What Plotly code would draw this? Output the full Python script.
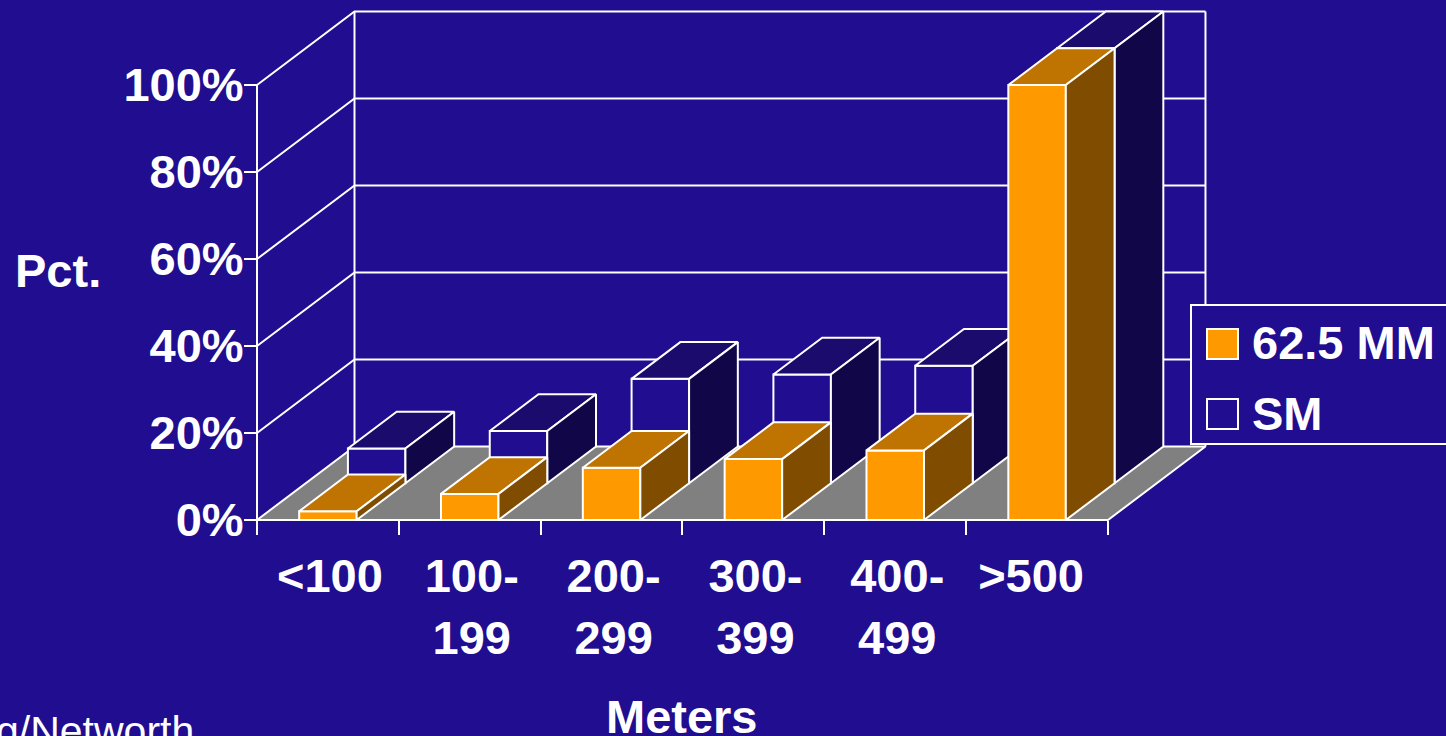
import plotly.graph_objects as go

# ---- data ----
categories = ["<100", "100-<br>199", "200-<br>299", "300-<br>399", "400-<br>499", ">500"]
mm_values = [2, 6, 12, 14, 16, 100]
sm_values = [8, 12, 24, 25, 27, 100]
y_ticks = [0, 20, 40, 60, 80, 100]
y_labels = ["0%", "20%", "40%", "60%", "80%", "100%"]

# ---- style / geometry ----
W, H = 1446, 736
BG = "#210D8F"
WHITE = "#FFFFFF"
FLOOR = "#808080"
MM_COL = ("#FF9900", "#BF7300", "#804D00")
SM_COL = (BG, "#1A0B6C", "#110748")
PX_X, PX_Y = 141.83, 4.35
X0_PX, Y0_PX = 257, 520
DX, DY = 97.5 / PX_X, 73.5 / PX_Y    # whole depth of the floor
BAR_W = 57.5 / PX_X
FS = 47
FONT = "Liberation Sans"
LW = 2
label_shift_px = [2, 2, 2, 2, 2, -6]

fig = go.Figure()


def poly(xs, ys, fill=None, width=LW):
    kw = dict(fill="toself", fillcolor=fill) if fill else {}
    fig.add_trace(go.Scatter(x=xs, y=ys, mode="lines", line=dict(color=WHITE, width=width),
                             hoverinfo="skip", showlegend=False, **kw))


def proj(x, d, v):
    return x + d * DX, v + d * DY


def box(cx, d0, d1, v, colors):
    x0, x1 = cx - BAR_W / 2, cx + BAR_W / 2
    a = [proj(x0, d0, 0), proj(x1, d0, 0), proj(x1, d0, v), proj(x0, d0, v)]
    t = [proj(x0, d0, v), proj(x1, d0, v), proj(x1, d1, v), proj(x0, d1, v)]
    s = [proj(x1, d0, 0), proj(x1, d1, 0), proj(x1, d1, v), proj(x1, d0, v)]
    for pts, c in zip((a, t, s), colors):
        pts = pts + pts[:1]
        poly([p[0] for p in pts], [p[1] for p in pts], c)


n = len(categories)
top = y_ticks[-1]
# front axis lines
poly([0, 0], [0, top])
# walls
for v in y_ticks[1:]:
    p = [proj(0, 0, v), proj(0, 1, v), proj(n, 1, v)]
    poly([q[0] for q in p], [q[1] for q in p])
p = [proj(0, 1, 0), proj(0, 1, top)]
poly([q[0] for q in p], [q[1] for q in p])
p = [proj(n, 1, 0), proj(n, 1, top)]
poly([q[0] for q in p], [q[1] for q in p])
# floor
pts = [proj(0, 0, 0), proj(0, 1, 0), proj(n, 1, 0), proj(n, 0, 0)]
pts = pts + pts[:1]
poly([q[0] for q in pts], [q[1] for q in pts], FLOOR)

# bars: rear series first, then front series
for i, v in enumerate(sm_values):
    box(i + 0.5, 0.5, 1.0, v, SM_COL)
for i, v in enumerate(mm_values):
    box(i + 0.5, 0.0, 0.5, v, MM_COL)

# carrier trace for the label axis
fig.add_trace(go.Scatter(x=[0.5], y=[0], xaxis="x2", mode="markers", marker=dict(opacity=0),
                         hoverinfo="skip", showlegend=False))

xr = [-X0_PX / PX_X, (W - X0_PX) / PX_X]
yr = [-(H - Y0_PX) / PX_Y, Y0_PX / PX_Y]
axis_y = (H - Y0_PX) / H
tick_font = dict(family=FONT, size=FS, color=WHITE, weight="bold")

fig.update_layout(
    width=W, height=H, margin=dict(l=0, r=0, t=0, b=0),
    paper_bgcolor=BG, plot_bgcolor=BG, showlegend=False,
    xaxis=dict(range=xr, domain=[0, 1], anchor="free", position=axis_y, showgrid=False, zeroline=False,
               tickmode="array", tickvals=list(range(n + 1)), showticklabels=False,
               ticks="outside", ticklen=14, tickwidth=LW, tickcolor=WHITE, showline=False),
    xaxis2=dict(range=xr, domain=[0, 1], overlaying="x", anchor="free", position=axis_y, showgrid=False,
                zeroline=False, tickmode="array",
                tickvals=[i + 0.5 + label_shift_px[i] / PX_X for i in range(n)], ticktext=categories,
                ticks="outside", ticklen=15, tickcolor="rgba(0,0,0,0)", tickfont=tick_font, side="bottom",
                showline=False),
    yaxis=dict(range=yr, domain=[0, 1], anchor="free", position=X0_PX / W, showgrid=False, zeroline=False,
               tickmode="array", tickvals=y_ticks, ticktext=y_labels,
               tickfont=dict(family=FONT, size=47, color=WHITE, weight="bold"), ticklabelstandoff=-9,
               ticks="outside", ticklen=13, tickwidth=LW, tickcolor=WHITE, showline=False),
)


def px(x):
    return x / W


def py(y):
    return 1 - y / H


# legend box
fig.add_shape(type="rect", xref="paper", yref="paper", x0=px(1191), x1=px(1460), y0=py(305), y1=py(444),
              fillcolor=BG, line=dict(color=WHITE, width=LW))
fig.add_shape(type="rect", xref="paper", yref="paper", x0=px(1207), x1=px(1238), y0=py(329), y1=py(359),
              fillcolor=MM_COL[0], line=dict(color=WHITE, width=LW))
fig.add_shape(type="rect", xref="paper", yref="paper", x0=px(1207), x1=px(1238), y0=py(399), y1=py(429),
              fillcolor=BG, line=dict(color=WHITE, width=LW))


def note(text, x, y, anchor="left", size=FS, bold=True):
    f = dict(family=FONT, size=size, color=WHITE)
    if bold:
        f["weight"] = "bold"
    fig.add_annotation(text=text, xref="paper", yref="paper", x=px(x), y=py(y), xanchor=anchor, yanchor="middle",
                       showarrow=False, font=f, borderpad=0, borderwidth=0)


note("62.5 MM", 1252, 343)
note("SM", 1252, 413)
note("Pct.", 15, 271)
note("Meters", 682, 716, anchor="center")
note("g/Networth", -4, 731, size=41, bold=False)

fig.write_html("out.html", config=dict(displayModeBar=False), post_script="document.body.style.margin='0';")
